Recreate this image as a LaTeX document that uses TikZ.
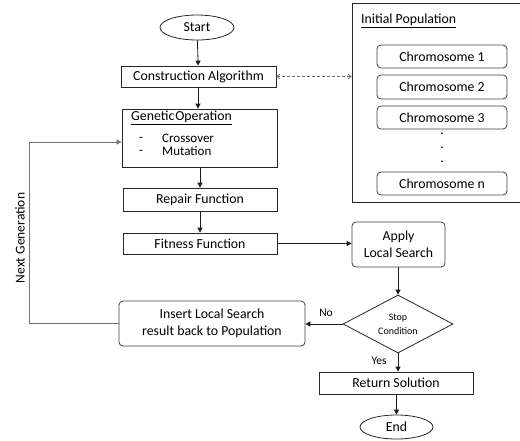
\documentclass[tikz,border=0pt]{standalone}
\usepackage{fontspec}
\setmainfont{Carlito}
\usetikzlibrary{shapes.geometric,arrows.meta}
\begin{document}
\begin{tikzpicture}[x=1pt,y=-1pt,
  every node/.style={font=\fontsize{13.8}{16}\selectfont},
  box/.style={draw=black!85,line width=0.8pt,minimum width=#1,inner sep=0pt},
  rbox/.style={draw=black!75,line width=0.8pt,rounded corners=4pt,inner sep=0pt},
  oval/.style={draw=black!85,line width=0.8pt,ellipse,minimum width=74pt,minimum height=25pt,inner sep=0pt},
  flow/.style={draw=black!90,line width=0.8pt,-{Triangle[length=5pt,width=5pt]}},
  fb/.style={draw=black!55,line width=0.9pt,-{Triangle[length=5pt,width=5pt]},color=black!55},
  lbl/.style={font=\fontsize{11.5}{13}\selectfont,inner sep=0pt},
  tight/.style={inner sep=0pt,align=left,font=\fontsize{13}{13}\selectfont}]
\useasboundingbox (0,0) rectangle (520,440);
% main column
\node[oval] (start) at (197,27.5) {Start};
\node[box=155pt,minimum height=21pt] (cons) at (198.5,76.5) {Construction Algorithm};
\node[box=155pt,minimum height=58pt] (gen) at (199.5,138) {};
\node[anchor=west,inner sep=0pt] (gent) at (131,118) {\underline{Genetic\kern1pt Operation}};
\node[tight] (dd) at (141,145.5) {-\\-};
\node[tight,anchor=west] (items) at (162,145) {Crossover\\Mutation};
\node[box=154pt,minimum height=23pt] (rep) at (200,199.5) {Repair Function};
\node[box=154pt,minimum height=21pt] (fit) at (200,243.5) {Fitness Function};
% population
\node[draw=black!85,line width=0.8pt,minimum width=170pt,minimum height=199pt,inner sep=0pt] (pop) at (437,102.5) {};
\node[anchor=west,inner sep=0pt] (popt) at (361,21) {\underline{Initial Population}};
\node[rbox,minimum width=130pt,minimum height=23pt] (c1) at (442,56.5) {Chromosome 1};
\node[rbox,minimum width=130pt,minimum height=24pt] (c2) at (442,87) {Chromosome 2};
\node[rbox,minimum width=130pt,minimum height=23pt] (c3) at (442,117.5) {Chromosome 3};
\node[inner sep=0pt] (p1) at (442,134) {.};
\node[inner sep=0pt] (p2) at (442,148) {.};
\node[inner sep=0pt] (p3) at (442,162) {.};
\node[rbox,minimum width=130pt,minimum height=23pt] (cn) at (442,183.5) {Chromosome n};
% right side
\node[rbox,minimum width=93pt,minimum height=45pt,align=center,font=\fontsize{13.8}{17}\selectfont] (apply) at (398.5,244.5) {Apply\\Local Search};
\node[draw=black!85,line width=0.8pt,diamond,aspect=1.9,minimum width=110pt,minimum height=58pt,inner sep=0pt,align=center,font=\fontsize{10}{14}\selectfont] (dia) at (398,324) {Stop\\Condition};
\node[rbox,minimum width=186pt,minimum height=45pt,align=center,font=\fontsize{13.8}{17}\selectfont] (ins) at (212,323.5) {Insert Local Search\\result back to Population};
\node[box=154pt,minimum height=22pt] (ret) at (396,383) {Return Solution};
\node[oval,minimum width=73pt,minimum height=24pt] (end) at (396.5,427) {End};
\node[lbl] (no) at (326,313) {No};
\node[lbl] (yes) at (379,361) {Yes};
\node[rotate=90,font=\fontsize{13.5}{15}\selectfont,inner sep=0pt] (ng) at (20,238) {Next Generation};
\coordinate (fbk) at (29,142);
% connectors
\draw[flow] (start) -- (cons);
\draw[flow] (cons.south -| 198,0) -- (gen.north -| 198,0);
\draw[flow] (gen.south -| 200,0) -- (rep.north -| 200,0);
\draw[flow] (rep) -- (fit);
\draw[flow] (fit.east) -- (apply.west |- fit.east);
\draw[flow] (apply.south -| dia.north) -- (dia.north);
\draw[flow] (dia.west) -- (ins.east |- dia.west);
\draw[flow] (dia.south) -- (ret.north -| dia.south);
\draw[flow] (ret.south -| end.north) -- (end.north);
\draw[fb] (ins.west) -| (fbk) -- (fbk -| gen.west);
\draw[black!60,line width=0.7pt,dashed,dash pattern=on 3pt off 2pt,{Straight Barb[length=3pt,width=5pt]}-{Straight Barb[length=3pt,width=5pt]}] (cons.east) -- (pop.west |- cons.east);
\end{tikzpicture}
\end{document}
